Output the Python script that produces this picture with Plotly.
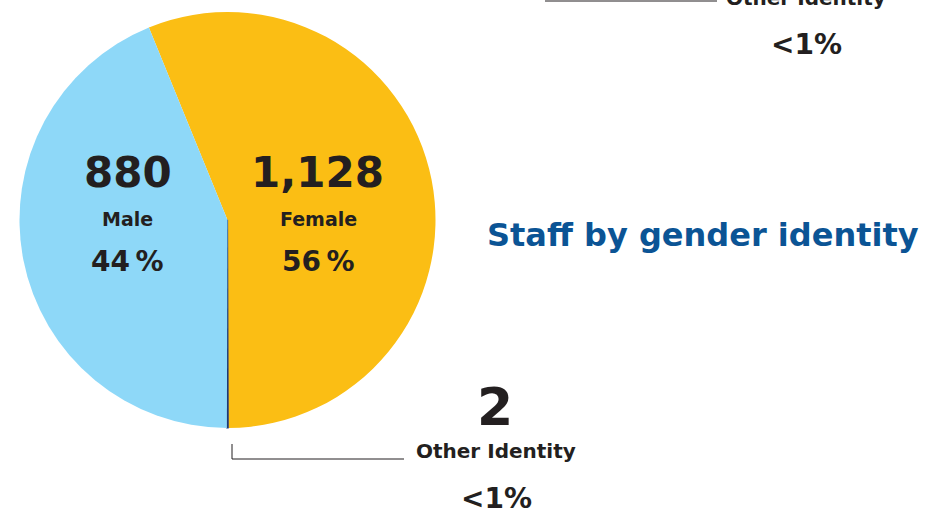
import plotly.graph_objects as go

# ---- data ----
labels = ["Female", "Other Identity", "Male"]
values = [1128, 2, 880]
colors = ["#FBBE14", "#1E3A78", "#8ED8F8"]
title_text = "Staff by gender identity"

W, H = 947, 515
total = sum(values)


def pct_text(v):
    p = v / total * 100
    return "<1%" if p < 1 else f"{round(p)}\u2009%"


def py(p):  # pixel y -> paper y
    return 1 - p / H


def px(p):
    return p / W


TXT = "#231F20"
FONT = "DejaVu Sans"

# pie geometry (pixels)
cx, cy, r = 227.5, 220, 208
# rotate so the small slice sits at the bottom
rot = 180 - 360 * (values[0] + values[1] / 2) / total

fig = go.Figure(
    go.Pie(
        labels=labels,
        values=values,
        sort=False,
        direction="clockwise",
        rotation=rot,
        marker=dict(colors=colors, line=dict(color=colors, width=[0, 1.2, 0])),
        textinfo="none",
        hoverinfo="label+value+percent",
        showlegend=False,
        domain=dict(x=[px(cx - r), px(cx + r)], y=[py(cy + r), py(cy - r)]),
    )
)

ann = []


def add(text, x, y, size, color=TXT):
    ann.append(
        dict(
            text=text, x=px(x), y=py(y), xref="paper", yref="paper",
            xanchor="center", yanchor="middle", showarrow=False,
            font=dict(family=FONT, size=size, color=color, weight="bold"),
        )
    )


# Male / Female labels
add(f"{values[2]:,}", 128, 172, 42)
add(labels[2], 128, 219, 19)
add(pct_text(values[2]), 128, 261, 28)
add(f"{values[0]:,}", 317, 172, 42)
add(labels[0], 318, 219, 19)
add(pct_text(values[0]), 318, 261, 28)

# Other identity
add(f"{values[1]:,}", 495, 407, 52)
add(labels[1], 496, 451, 20)
add(pct_text(values[1]), 496, 498, 28)

# duplicate at top right (partially cut off, as in the reference)
add(labels[1], 806, -2, 20)
add(pct_text(values[1]), 806, 45, 28)

# title
add(title_text, 703, 235, 32, color="#0B5495")

shapes = [
    dict(type="path", xref="paper", yref="paper",
         path=f"M {px(232)} {py(444)} L {px(232)} {py(459)} L {px(404)} {py(459)}",
         line=dict(color="#231F20", width=1)),
    dict(type="line", xref="paper", yref="paper",
         x0=px(545), x1=px(717), y0=py(1), y1=py(1),
         line=dict(color="#231F20", width=1)),
]

fig.update_layout(
    width=W, height=H,
    margin=dict(l=0, r=0, t=0, b=0),
    paper_bgcolor="white", plot_bgcolor="white",
    annotations=ann, shapes=shapes,
)

fig.write_html(
    "out.html",
    config={"displayModeBar": False},
    post_script="document.body.style.margin='0';document.body.style.overflow='hidden';",
)
